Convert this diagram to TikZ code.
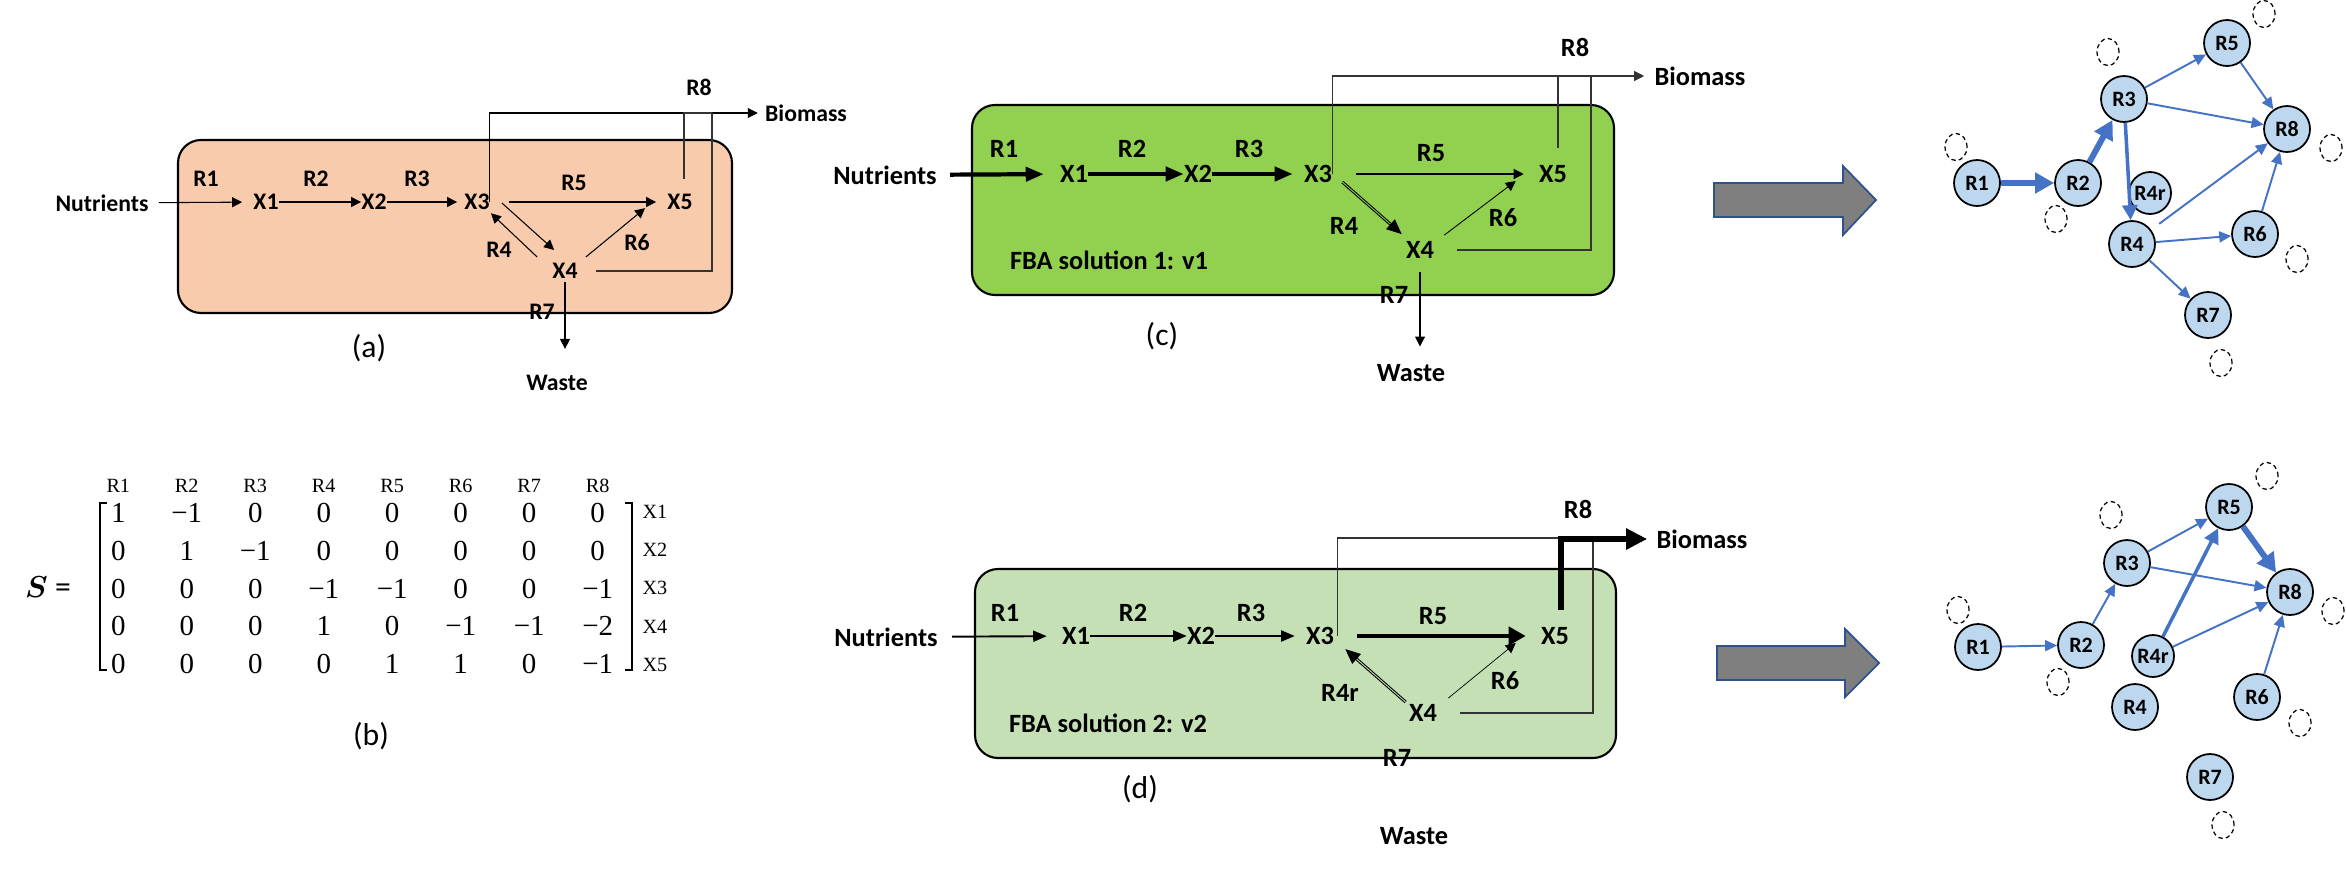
\documentclass[tikz,border=0pt]{standalone}
\usepackage{fontspec}
\setmainfont{Carlito}
\newfontfamily\matserif{Liberation Serif}
\usepackage{amsmath}
\usepackage{amssymb}
\usetikzlibrary{arrows.meta,matrix,shapes.geometric}
\definecolor{cell-a-color}{RGB}{248, 203, 173}
\definecolor{cell-c-color}{RGB}{146, 208, 80}
\definecolor{cell-d-color}{RGB}{197, 224, 180}
\definecolor{rxn-fill}{RGB}{189, 215, 238}
\definecolor{rxn-edge}{RGB}{68, 114, 196}
\definecolor{shift-fill}{RGB}{127, 127, 127}
\definecolor{shift-line}{RGB}{47, 82, 143}

\begin{document}
\begin{tikzpicture}[x=0.02cm, y=-0.02cm,
  lbla/.style={font=\fontsize{13.5}{16}\selectfont\bfseries, inner sep=0pt},
  lblc/.style={font=\fontsize{15}{18}\selectfont\bfseries, inner sep=0pt},
  capt/.style={font=\fontsize{18}{22}\selectfont, inner sep=0pt},
  serif/.style={font=\matserif\fontsize{11.5}{13}\selectfont, inner sep=0pt},
  cellbox/.style={rounded corners=0.46cm, line width=1.2pt},
  branch/.style={line width=0.6pt, black!80},
  arr/.style={-{Triangle[length=0.2cm,width=0.2cm]}, line width=0.6pt},
  arrmid/.style={-{Triangle[length=0.27cm,width=0.22cm]}, line width=1.1pt},
  arrbold/.style={-{Triangle[length=0.36cm,width=0.28cm]}, line width=2.4pt},
  arrfat/.style={-{Triangle[length=0.34cm,width=0.36cm]}, line width=2.8pt},
  arrr8/.style={-{Triangle[length=0.42cm,width=0.4cm]}, line width=3.8pt},
  arrdbl/.style={-{Triangle[length=0.3cm,width=0.26cm]}, line width=0.6pt, double distance=0.5pt},
  rxn/.style={circle, draw, line width=1pt, fill=rxn-fill, minimum size=0.92cm, inner sep=0pt, font=\fontsize{12.5}{15}\selectfont\bfseries},
  ghost/.style={ellipse, draw, dash pattern=on 2.5pt off 1.8pt, line width=0.7pt, minimum width=0.44cm, minimum height=0.54cm, inner sep=0pt},
  flow/.style={rxn-edge, line width=1.1pt, -{Triangle[length=0.24cm,width=0.22cm]}},
  flowmid/.style={rxn-edge, line width=2pt, -{Triangle[length=0.3cm,width=0.3cm]}},
  flowbig/.style={rxn-edge, line width=3.4pt, -{Triangle[length=0.38cm,width=0.4cm]}},
  shiftarrow/.style={fill=shift-fill, draw=shift-line, line width=1pt}]
\useasboundingbox (0,0) rectangle (2346,869);

\draw[cellbox, fill=cell-a-color] (178,140) rectangle (732,313);
\node[lbla] (a_nut) at (102,203) {Nutrients};
\node[lbla] (a_x1) at (266,202) {X1};
\node[lbla] (a_x2) at (374,202) {X2};
\node[lbla] (a_x3) at (477,202) {X3};
\node[lbla] (a_x5) at (680,202) {X5};
\node[lbla] (a_x4) at (565,271) {X4};
\node[lbla] (a_r1) at (206,179) {R1};
\node[lbla] (a_r2) at (316,179) {R2};
\node[lbla] (a_r3) at (417,179) {R3};
\node[lbla] (a_r5) at (574,183) {R5};
\node[lbla] (a_r4) at (499,250) {R4};
\node[lbla] (a_r6) at (637,242) {R6};
\node[lbla] (a_r7) at (542,312) {R7};
\node[lbla] (a_r8) at (699,87) {R8};
\node[lbla] (a_bio) at (806,113) {Biomass};
\node[lbla] (a_waste) at (557,383) {Waste};
\node[capt] (a_cap) at (369,348) {(a)};
\coordinate (a_r8_top) at (712,113);

\draw[arr, shorten <=0.2cm, shorten >=0.22cm] (a_nut) -- (a_x1);
\draw[arr] (a_x1) -- (a_x2);
\draw[arr, shorten >=0.14cm] (a_x2) -- (a_x3);
\draw[arr, shorten <=0.38cm, shorten >=0.22cm] (a_x3) -- (a_x5);
\draw[arr] ([shift={(12,1)}]a_x3.east) -- ([shift={(2,-13)}]a_x4.north west);
\draw[arr] ([shift={(-15,-6)}]a_x4.north west) -- ([shift={(1,3)}]a_x3.south east);
\draw[arr] ([shift={(8,-6)}]a_x4.north east) -- ([shift={(-22,-2)}]a_x5.south west);
\draw[arr, shorten >=0.14cm] (a_x3.east) |- (a_bio.west);
\draw[branch] ([shift={(4,-15)}]a_x5.north) |- (a_r8_top);
\draw[branch] ([shift={(18,0)}]a_x4.east) -| (a_r8_top);
\draw[arr, shorten <=0.06cm, shorten >=0.52cm] (a_x4.south) -- (a_x4.south |- a_waste.north);

\node[font=\fontsize{18}{21}\selectfont, inner sep=0pt] (s_eq) at (48,587) {$\boldsymbol{S}$ =};
\matrix (s_mat) at (358,577) [matrix of nodes,
  nodes={minimum width=1.37cm, text height=0.36cm, text depth=0.12cm, inner sep=0pt, font=\matserif\fontsize{16.5}{19}\selectfont},
  row 1/.style={nodes={font=\matserif\fontsize{11.5}{13}\selectfont}},
  row sep=0.28cm] {
R1 & R2 & R3 & R4 & R5 & R6 & R7 & R8 \\[-0.16cm]
1 & −1 & 0 & 0 & 0 & 0 & 0 & 0 \\
0 & 1 & −1 & 0 & 0 & 0 & 0 & 0 \\
0 & 0 & 0 & −1 & −1 & 0 & 0 & −1 \\
0 & 0 & 0 & 1 & 0 & −1 & −1 & −2 \\
0 & 0 & 0 & 0 & 1 & 1 & 0 & −1 \\
};
\draw[line width=1.1pt] (107,503) -- (100,503) -- (100,670) -- (107,670);
\draw[line width=1.1pt] (625,503) -- (632,503) -- (632,670) -- (625,670);
\node[serif] (s_x1) at (655,512) {X1};
\node[serif] (s_x2) at (655,550) {X2};
\node[serif] (s_x3) at (655,588) {X3};
\node[serif] (s_x4) at (655,627) {X4};
\node[serif] (s_x5) at (655,665) {X5};
\node[capt] (b_cap) at (371,736) {(b)};

\draw[cellbox, fill=cell-c-color] (972,105) rectangle (1614,295);
\node[lblc] (c_nut) at (885,175) {Nutrients};
\node[lblc] (c_x1) at (1074,174) {X1};
\node[lblc] (c_x2) at (1198,174) {X2};
\node[lblc] (c_x3) at (1318,174) {X3};
\node[lblc] (c_x5) at (1553,174) {X5};
\node[lblc] (c_x4) at (1420,250) {X4};
\node[lblc] (c_r1) at (1004,149) {R1};
\node[lblc] (c_r2) at (1132,149) {R2};
\node[lblc] (c_r3) at (1249,149) {R3};
\node[lblc] (c_r5) at (1431,153) {R5};
\node[lblc] (c_r4) at (1344,226) {R4};
\node[lblc] (c_r6) at (1503,218) {R6};
\node[lblc] (c_r7) at (1394,295) {R7};
\node[lblc] (c_r8) at (1575,47) {R8};
\node[lblc] (c_bio) at (1700,76) {Biomass};
\node[lblc] (c_waste) at (1411,373) {Waste};
\node[lblc] (c_fba) at (1109,260) {FBA solution 1: v1};
\node[capt] (c_cap) at (1162,336) {(c)};
\coordinate (c_r8_top) at (1591,76);

\draw[arrbold, shorten <=0.26cm, shorten >=0.32cm] (c_nut) -- (c_x1);
\draw[arrbold] (c_x1) -- (c_x2);
\draw[arrbold, shorten >=0.22cm] (c_x2) -- (c_x3);
\draw[arr, line width=0.8pt, shorten <=0.48cm, shorten >=0.3cm] (c_x3) -- (c_x5);
\draw[arrdbl, double=cell-c-color] ([shift={(10,8)}]c_x3.east) -- ([shift={(-4,-7)}]c_x4.north west);
\draw[arr, line width=0.5pt] ([shift={(10,-6)}]c_x4.north east) -- ([shift={(-23,-2)}]c_x5.south west);
\draw[arr, branch, shorten >=0.2cm] (c_x3.east) |- (c_bio.west);
\draw[branch] ([shift={(5,-17)}]c_x5.north) |- (c_r8_top);
\draw[branch] ([shift={(23,0)}]c_x4.east) -| (c_r8_top);
\draw[arr, shorten <=0.27cm, shorten >=0.35cm] (c_x4.south) -- (c_x4.south |- c_waste.north);

\draw[cellbox, fill=cell-d-color] (975,569) rectangle (1616,758);
\node[lblc] (d_nut) at (886,637) {Nutrients};
\node[lblc] (d_x1) at (1076,636) {X1};
\node[lblc] (d_x2) at (1201,636) {X2};
\node[lblc] (d_x3) at (1320,636) {X3};
\node[lblc] (d_x5) at (1555,636) {X5};
\node[lblc] (d_x4) at (1423,713) {X4};
\node[lblc] (d_r1) at (1005,613) {R1};
\node[lblc] (d_r2) at (1133,613) {R2};
\node[lblc] (d_r3) at (1251,613) {R3};
\node[lblc] (d_r5) at (1433,616) {R5};
\node[lblc] (d_r4r) at (1340,693) {R4r};
\node[lblc] (d_r6) at (1505,681) {R6};
\node[lblc] (d_r7) at (1397,758) {R7};
\node[lblc] (d_r8) at (1578,509) {R8};
\node[lblc] (d_bio) at (1702,539) {Biomass};
\node[lblc] (d_waste) at (1414,836) {Waste};
\node[lblc] (d_fba) at (1108,723) {FBA solution 2: v2};
\node[capt] (d_cap) at (1140,789) {(d)};
\coordinate (d_r8_top) at (1593,538);
\coordinate (d_r8_turn) at (1561,538);

\draw[arrmid, shorten <=0.28cm, shorten >=0.3cm] (d_nut) -- (d_x1);
\draw[arrmid] (d_x1) -- (d_x2);
\draw[arrmid, shorten >=0.22cm] (d_x2) -- (d_x3);
\draw[arrfat, shorten <=0.46cm, shorten >=0.3cm] (d_x3) -- (d_x5);
\draw[arrdbl, double=cell-d-color] ([shift={(-3,-2)}]d_x4.north west) -- ([shift={(11,4)}]d_x3.south east);
\draw[arr, line width=0.4pt] ([shift={(11,-6)}]d_x4.north east) -- ([shift={(-25,-2)}]d_x5.south west);
\draw[branch] ([shift={(3,0)}]d_x3.east) |- (d_r8_turn);
\draw[branch] ([shift={(23,0)}]d_x4.east) -| (d_r8_top);
\draw[arrr8, shorten >=0.18cm] ([shift={(6,-17)}]d_x5.north) |- (d_bio.west);

\draw[shiftarrow] (1714,183) -- (1843,183) -- (1843,166) -- (1876,200) -- (1843,235) -- (1843,217) -- (1714,217) -- cycle;
\draw[shiftarrow] (1717,646) -- (1845,646) -- (1845,629) -- (1879,663) -- (1845,697) -- (1845,680) -- (1717,680) -- cycle;

\node[rxn] (t_r1) at (1977,183) {R1};
\node[rxn] (t_r2) at (2078,183) {R2};
\node[rxn] (t_r3) at (2124,99) {R3};
\node[rxn, minimum size=0.84cm] (t_r4r) at (2150,193) {R4r};
\node[rxn] (t_r4) at (2132,244) {R4};
\node[rxn] (t_r5) at (2227,43) {R5};
\node[rxn] (t_r8) at (2287,129) {R8};
\node[rxn] (t_r6) at (2255,234) {R6};
\node[rxn] (t_r7) at (2208,315) {R7};
\node[ghost] (t_g1) at (1956,147) {};
\node[ghost] (t_g2) at (2056,219) {};
\node[ghost] (t_g3) at (2108,52) {};
\node[ghost] (t_g5) at (2264,14) {};
\node[ghost] (t_g8) at (2331,148) {};
\node[ghost] (t_g6) at (2297,259) {};
\node[ghost] (t_g7) at (2221,363) {};
\draw[flowbig] (t_r1) -- (t_r2);
\draw[flowbig] (t_r2) -- (t_r3);
\draw[flowmid] (t_r3) -- (t_r4);
\draw[flow] (t_r3) -- (t_r5);
\draw[flow] (t_r3) -- (t_r8);
\draw[flow] (t_r5) -- (t_r8);
\draw[flow, shorten <=0.2cm] (t_r4) -- (t_r8);
\draw[flow] (t_r4) -- (t_r6);
\draw[flow] (t_r4) -- (t_r7);
\draw[flow] (t_r6) -- (t_r8);

\node[rxn] (b_r1) at (1978,647) {R1};
\node[rxn] (b_r2) at (2081,645) {R2};
\node[rxn] (b_r3) at (2127,563) {R3};
\node[rxn] (b_r5) at (2229,507) {R5};
\node[rxn] (b_r8) at (2290,592) {R8};
\node[rxn, minimum size=0.84cm] (b_r4r) at (2153,656) {R4r};
\node[rxn] (b_r4) at (2135,707) {R4};
\node[rxn] (b_r6) at (2257,697) {R6};
\node[rxn] (b_r7) at (2210,777) {R7};
\node[ghost] (b_g1) at (1958,610) {};
\node[ghost] (b_g2) at (2058,682) {};
\node[ghost] (b_g3) at (2111,515) {};
\node[ghost] (b_g5) at (2267,476) {};
\node[ghost] (b_g8) at (2333,611) {};
\node[ghost] (b_g6) at (2300,723) {};
\node[ghost] (b_g7) at (2223,825) {};
\draw[flow] (b_r1) -- (b_r2);
\draw[flow] (b_r2) -- (b_r3);
\draw[flow] (b_r3) -- (b_r5);
\draw[flow] (b_r3) -- (b_r8);
\draw[flowmid] (b_r4r) -- (b_r5);
\draw[flow] (b_r4r) -- (b_r8);
\draw[flowbig] (b_r5) -- (b_r8);
\draw[flow] (b_r6) -- (b_r8);
\end{tikzpicture}
\end{document}
